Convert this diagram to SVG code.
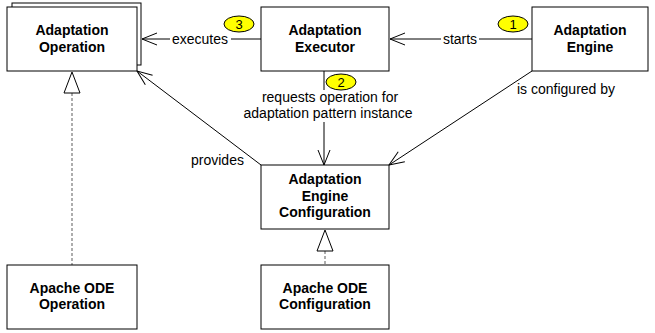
<svg xmlns="http://www.w3.org/2000/svg" width="655" height="333" viewBox="0 0 655 333">
<style>
.box{fill:#fff;stroke:#000;stroke-width:1}
.t{font-family:"Liberation Sans",Arial,sans-serif;font-size:14px;font-weight:bold;text-anchor:middle;fill:#000}
.l{font-family:"Liberation Sans",Arial,sans-serif;font-size:14px;fill:#000}
.c{fill:none;stroke:#000;stroke-width:1}
.d{fill:none;stroke:#777;stroke-width:1.2;stroke-dasharray:3,2}
.tri{fill:#fff;stroke:#000;stroke-width:1}
.b{fill:#ffff00;stroke:#000;stroke-width:1}
.bn{font-family:"Liberation Sans",Arial,sans-serif;font-size:13px;text-anchor:middle;fill:#000}
</style>
<defs>
<marker id="open" markerUnits="userSpaceOnUse" markerWidth="20" markerHeight="16" refX="16" refY="7" orient="auto" viewBox="0 0 20 14">
<path d="M1,1 L16,7 L1,13" fill="none" stroke="#000" stroke-width="1"/>
</marker>
</defs>
<rect width="655" height="333" fill="#fff"/>
<g id="connectors">
<line class="c" x1="532" y1="39" x2="390" y2="39" marker-end="url(#open)"/>
<line class="c" x1="261" y1="39" x2="142" y2="39" marker-end="url(#open)"/>
<line class="c" x1="324" y1="71" x2="324" y2="165" marker-end="url(#open)"/>
<line class="c" x1="261" y1="165" x2="137" y2="71" marker-end="url(#open)"/>
<line class="c" x1="532" y1="71" x2="389" y2="165" marker-end="url(#open)"/>
<line class="d" x1="72" y1="93" x2="72" y2="265"/>
<polygon class="tri" points="72,72 64,93 80,93"/>
<line class="d" x1="325" y1="251" x2="325" y2="265"/>
<polygon class="tri" points="325,230 317,251 333,251"/>
<rect x="441" y="30" width="38" height="16" fill="#fff"/>
<text class="l" x="460" y="44" text-anchor="middle">starts</text>
<rect x="170" y="30" width="61" height="16" fill="#fff"/>
<text class="l" x="200" y="44" text-anchor="middle">executes</text>
<rect x="240" y="90" width="176" height="32" fill="#fff"/>
<text class="l" x="330" y="102" text-anchor="middle">requests operation for</text>
<text class="l" x="328" y="118" text-anchor="middle">adaptation pattern instance</text>
<text class="l" x="191" y="165">provides</text>
<text class="l" x="517" y="94">is configured by</text>
</g>
<g id="adaptation-operation">
<rect class="box" x="12" y="3" width="129" height="62"/>
<rect class="box" x="7" y="7" width="130" height="64"/>
<text class="t" x="72" y="35">Adaptation</text>
<text class="t" x="72" y="52">Operation</text>
</g>
<g id="adaptation-executor">
<rect class="box" x="261" y="7" width="128" height="64"/>
<text class="t" x="325" y="35">Adaptation</text>
<text class="t" x="325" y="52">Executor</text>
</g>
<g id="adaptation-engine">
<rect class="box" x="532" y="7" width="116" height="64"/>
<text class="t" x="590" y="35">Adaptation</text>
<text class="t" x="590" y="52">Engine</text>
</g>
<g id="adaptation-engine-configuration">
<rect class="box" x="261" y="165" width="128" height="64"/>
<text class="t" x="325" y="184">Adaptation</text>
<text class="t" x="325" y="200.5">Engine</text>
<text class="t" x="325" y="217">Configuration</text>
</g>
<g id="apache-ode-operation">
<rect class="box" x="7" y="265" width="130" height="64"/>
<text class="t" x="72" y="293">Apache ODE</text>
<text class="t" x="72" y="309">Operation</text>
</g>
<g id="apache-ode-configuration">
<rect class="box" x="261" y="265" width="128" height="64"/>
<text class="t" x="325" y="293">Apache ODE</text>
<text class="t" x="325" y="309">Configuration</text>
</g>
<g id="badges">
<ellipse class="b" cx="513" cy="24" rx="15" ry="8"/>
<text class="bn" x="513" y="29">1</text>
<ellipse class="b" cx="341" cy="82" rx="15" ry="8"/>
<text class="bn" x="341" y="87">2</text>
<ellipse class="b" cx="239" cy="24" rx="15" ry="8"/>
<text class="bn" x="239" y="29">3</text>
</g>
</svg>
